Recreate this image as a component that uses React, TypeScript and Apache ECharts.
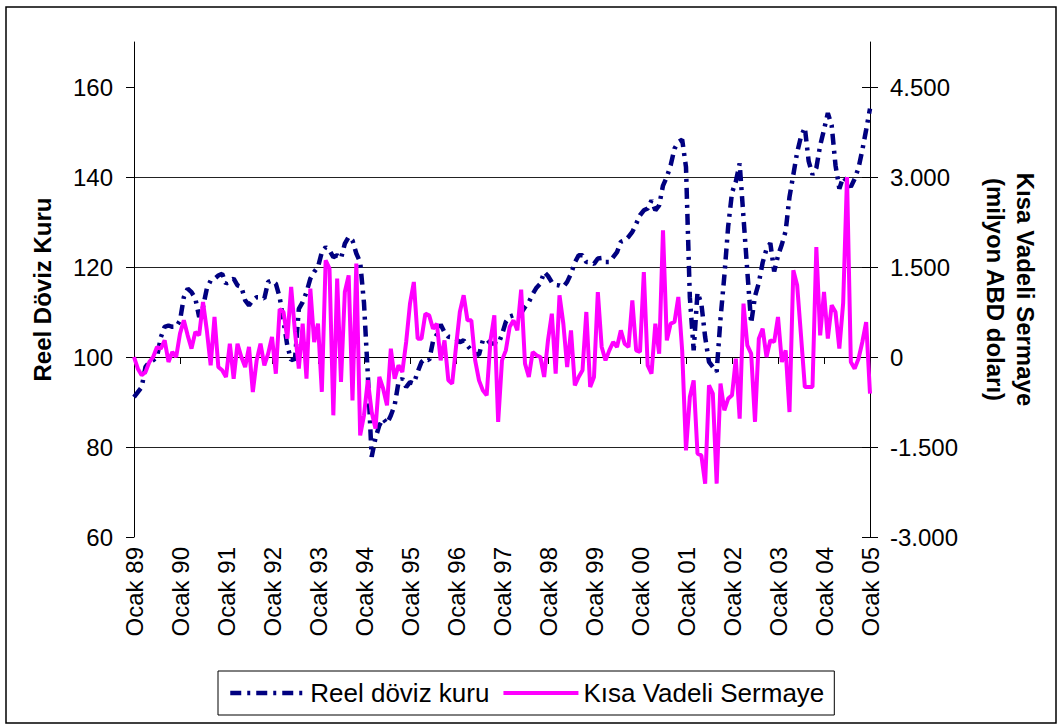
import React, { useEffect, useRef } from 'react';
import * as echarts from 'echarts';

const monthNames = ['Ocak', 'Şubat', 'Mart', 'Nisan', 'Mayıs', 'Haziran', 'Temmuz', 'Ağustos', 'Eylül', 'Ekim', 'Kasım', 'Aralık'];
const years = ['89', '90', '91', '92', '93', '94', '95', '96', '97', '98', '99', '00', '01', '02', '03', '04', '05'];

const leftTicks = [60, 80, 100, 120, 140, 160];
const rightTicks = [-3000, -1500, 0, 1500, 3000, 4500];

// Reel döviz kuru (left axis), monthly Ocak 89 .. Ocak 05
const realRate = [
  91.1, 92.2, 93.3, 97.8, 98.9, 99.3, 100, 104.4, 106.7, 107, 106.7, 106.7,
  108.1, 113.3, 115.2, 114.4, 113, 108.9, 111.1, 115.2, 117, 117.4, 118.1, 118.5,
  116.3, 117, 117.4, 115.9, 115.6, 112.6, 111.5, 112.6, 113.3, 113.3, 113, 116.7,
  117, 116.3, 113.3, 108, 102.5, 99.3, 99.6, 110.7, 112.2, 114.4, 117.4, 118.9,
  120, 123.3, 124.4, 123.7, 122.2, 122.6, 121.9, 125.2, 126.7, 125.9, 123, 121.1,
  112, 96, 77.8, 82, 84.8, 86.3, 85.2, 87, 89.3, 94.4, 95.2, 93.3,
  94.4, 94.1, 96.7, 98.9, 99.6, 99.3, 103.5, 105, 107.2, 105.5, 104.5, 104.4,
  104, 103.3, 103.7, 102.5, 101.5, 100.7, 100.5, 103.7, 104, 103, 103, 102.8,
  105, 107.8, 109, 109.3, 109.3, 109.8, 111.1, 112.2, 114, 115.4, 116.3, 118.9,
  118, 116.6, 116, 115.9, 115.6, 116.7, 118.5, 121, 122.6, 122.6, 121.1, 121.1,
  120.7, 121.9, 122, 121.1, 121.1, 122.2, 123.3, 125.6, 125.9, 126.7, 127.8, 129.6,
  131.5, 132.6, 133, 134.8, 132.6, 133.7, 138.1, 140, 142.6, 146.3, 147.8, 148.3,
  142.2, 113.3, 101.5, 114.3, 111.9, 104.4, 98.9, 97.8, 96.7, 108.5, 118, 129,
  136.5, 139, 143, 131, 119, 107.5, 113.5, 116.5, 121, 124, 125.3, 119,
  122.5, 125, 128, 135.6, 140.5, 145.5, 149, 151, 143.5, 140.5, 142, 147,
  150.5, 154.2, 151.5, 142.6, 137.4, 140, 139, 137.8, 139.6, 142, 146, 150.5,
  155.2,
];

// Kısa Vadeli Sermaye (right axis, milyon ABD doları)
const shortTermCapital = [
  0, -195, -305, -250, -83, 0, 167, 140, 278, -83, 83, 0,
  389, 611, 361, 139, 417, 361, 917, 444, -139, 667, -167, -222,
  -333, 222, -361, 222, 0, -167, 167, -583, -56, 222, -139, 56,
  333, -278, 800, 750, 305, 1167, 417, -194, 556, -361, 1139, 250,
  556, -583, 1611, 1472, -972, 1306, -417, 1083, 1361, -722, 1556, -1306,
  -972, -389, -917, -1194, -333, -528, -806, 139, -361, -139, -250, 250,
  889, 1250, 306, 306, 722, 694, 472, 556, -56, 278, -389, -444,
  167, 750, 1028, 611, 611, -56, -389, -556, -639, 278, 694, -1083,
  -56, 111, 500, 611, 444, 1122, -111, -333, 83, 28, 0, -333,
  278, 722, -278, 1028, 556, -167, 444, -472, -333, -222, 750, -500,
  -333, 1083, 167, -56, 111, 250, 167, 444, 222, 167, 944, 111,
  83, 1417, -139, -278, 556, 56, 2111, 278, 556, 583, 1000, 111,
  -1556, -667, -389, -1611, -1639, -2111, -472, -611, -2111, -444, -889, -694,
  -639, -28, -1028, 889, 194, 56, -1083, 306, 472, 0, 278, 250,
  667, -83, 111, -917, 1444, 1194, 361, -500, -500, -500, 1833, 361,
  1083, 306, 861, 750, 139, 900, 3000, -83, -194, -28, 250, 583,
  -611,
];

const categories: string[] = [];
years.forEach((y, yi) => {
  monthNames.forEach((m, mi) => {
    if (yi < years.length - 1 || mi === 0) categories.push(`${m} ${y}`);
  });
});

const FONT = "'Liberation Sans', Arial, Helvetica, sans-serif";

const fmtTr = (v: number) => {
  const s = Math.abs(v).toString().replace(/\B(?=(\d{3})+(?!\d))/g, '.');
  return (v < 0 ? '-' : '') + s;
};

export default function App() {
  const ref = useRef<HTMLDivElement>(null);

  useEffect(() => {
    document.body.style.margin = '0';
    if (!ref.current) return;
    const chart = echarts.init(ref.current, null, { renderer: 'svg' });
    chart.setOption({
      animation: false,
      backgroundColor: '#ffffff',
      textStyle: { fontFamily: FONT, color: '#000' },
      graphic: [
        {
          type: 'rect',
          shape: { x: 6, y: 7, width: 1050, height: 716 },
          style: { fill: 'none', stroke: '#000', lineWidth: 1.5 },
          silent: true,
        },
      ],
      grid: { left: 134, right: 192, top: 42, bottom: 190, containLabel: false },
      legend: {
        left: 218,
        top: 671,
        orient: 'horizontal',
        padding: [9, 10, 9, 10],
        borderColor: '#000',
        borderWidth: 1,
        itemWidth: 75,
        itemHeight: 14,
        itemGap: 12,
        lineStyle: { width: 'inherit' },
        itemStyle: { color: 'rgba(0,0,0,0)', borderColor: 'rgba(0,0,0,0)', borderWidth: 0 },
        textStyle: { fontSize: 26, color: '#000', fontFamily: FONT },
        data: ['Reel döviz kuru', 'Kısa Vadeli Sermaye'],
      },
      xAxis: {
        type: 'category',
        data: categories,
        boundaryGap: false,
        axisLine: { show: true, lineStyle: { color: '#000', width: 1 } },
        axisTick: { show: true, interval: 11, length: 7, lineStyle: { color: '#000' } },
        axisLabel: {
          interval: 11,
          rotate: 90,
          margin: 10,
          fontSize: 24,
          color: '#000',
          fontFamily: FONT,
        },
        splitLine: { show: false },
      },
      yAxis: [
        {
          type: 'value',
          position: 'left',
          min: 60,
          max: 170,
          interval: 20,
          name: 'Reel Döviz Kuru',
          nameLocation: 'middle',
          nameGap: 80,
          nameTextStyle: { fontSize: 24, fontWeight: 'bold', color: '#000', fontFamily: FONT },
          axisLine: { show: true, lineStyle: { color: '#000', width: 1 } },
          axisTick: { show: true, length: 8, customValues: leftTicks, lineStyle: { color: '#000' } },
          axisLabel: { margin: 21, fontSize: 24, color: '#000', fontFamily: FONT, customValues: leftTicks },
          splitLine: { show: true, showMaxLine: false, showMinLine: false, lineStyle: { color: '#222', width: 1 } },
        },
        {
          type: 'value',
          position: 'right',
          min: -3000,
          max: 5250,
          interval: 1500,
          name: 'Kısa Vadeli Sermaye\n(milyon ABD doları)',
          nameLocation: 'middle',
          nameRotate: -90,
          nameGap: 110,
          nameTextStyle: { fontSize: 24, fontWeight: 'bold', color: '#000', fontFamily: FONT, lineHeight: 30 },
          axisLine: { show: true, lineStyle: { color: '#000', width: 1 } },
          axisTick: { show: true, length: 8, customValues: rightTicks, lineStyle: { color: '#000' } },
          axisLabel: {
            margin: 20,
            fontSize: 24,
            color: '#000',
            fontFamily: FONT,
            customValues: rightTicks,
            formatter: (v: number) => fmtTr(v),
          },
          splitLine: { show: false },
        },
        {
          type: 'value',
          position: 'right',
          min: -3000,
          max: 5250,
          interval: 1500,
          axisLine: { show: false },
          axisTick: { show: true, inside: true, length: 8, customValues: rightTicks, lineStyle: { color: '#000' } },
          axisLabel: { show: false },
          splitLine: { show: false },
        },
      ],
      series: [
        {
          name: 'Reel döviz kuru',
          type: 'line',
          yAxisIndex: 0,
          data: realRate,
          showSymbol: false,
          symbol: 'none',
          lineStyle: { color: '#000080', width: 4.5, type: [11, 6, 3, 6], cap: 'butt' },
          itemStyle: { color: '#000080' },
          z: 2,
        },
        {
          name: 'Kısa Vadeli Sermaye',
          type: 'line',
          yAxisIndex: 1,
          data: shortTermCapital,
          showSymbol: false,
          symbol: 'none',
          lineStyle: { color: '#ff00ff', width: 4 },
          itemStyle: { color: '#ff00ff' },
          z: 3,
        },
      ],
    });
    return () => chart.dispose();
  }, []);

  return (
    <div
      ref={ref}
      style={{ position: 'fixed', left: 0, top: 0, width: 1062, height: 727, background: '#fff' }}
    />
  );
}
